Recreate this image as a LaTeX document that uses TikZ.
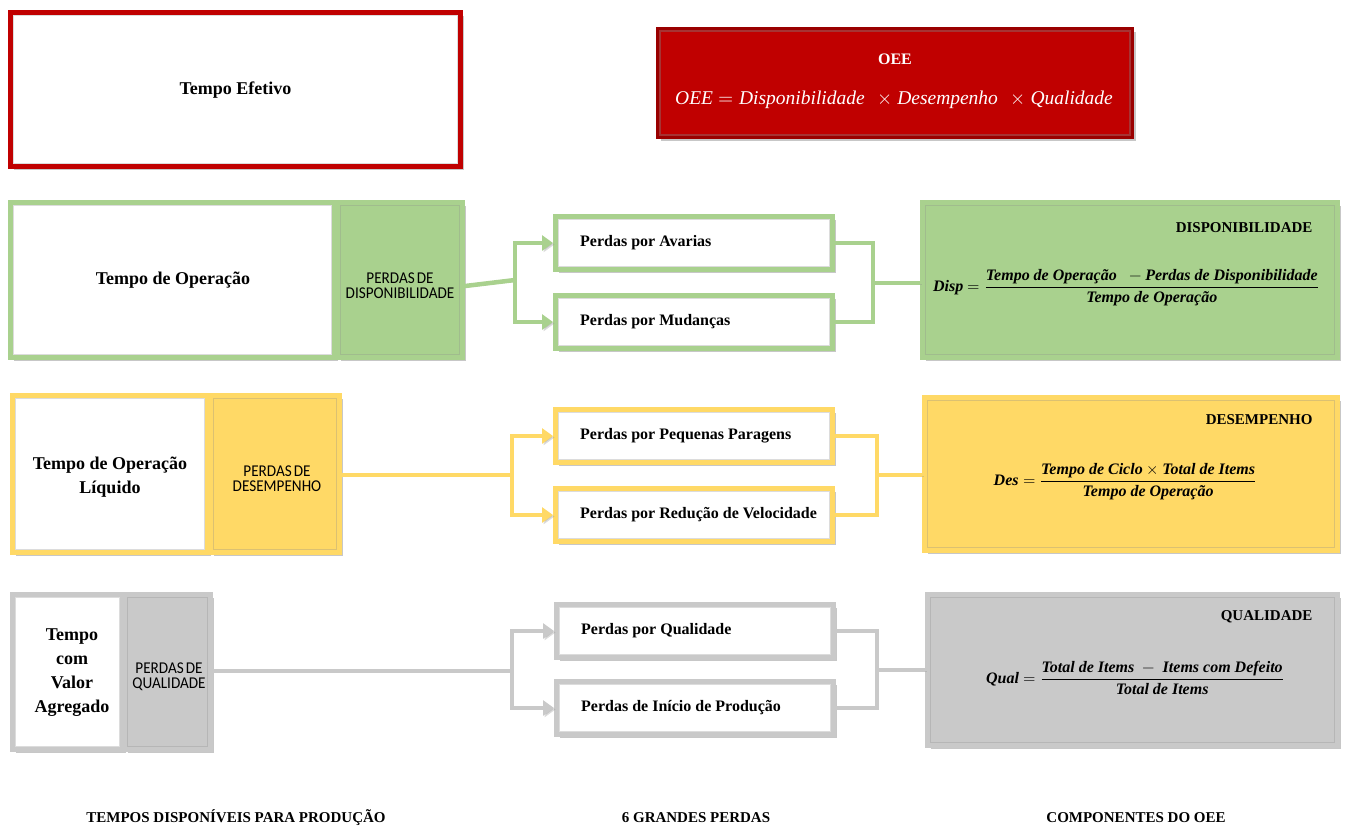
\documentclass[tikz,border=0pt]{standalone}
\usepackage{amsmath}
\usepackage{fontspec}
\usepackage{unicode-math}
\setmainfont{Liberation Serif}
\setmathfont{Latin Modern Math}
\newfontfamily\capsans[FakeStretch=0.92]{Carlito}
\usetikzlibrary{arrows.meta,shadows,calc}

\definecolor{oeered}{HTML}{C00000}
\definecolor{oeedark}{HTML}{9A0000}
\definecolor{dispgreen}{HTML}{A9D18E}
\definecolor{desyellow}{HTML}{FFD966}
\definecolor{qualgray}{HTML}{C9C9C9}

\newcommand{\fb}[1]{\textbf{\textit{#1}}}

\tikzset{
  box/.style={draw=#1, line width=5pt, inner sep=0pt, fill=white,
    drop shadow={shadow xshift=3pt, shadow yshift=-3pt, opacity=.22, fill=black}},
  lossbox/.style={box=#1, minimum width=277, minimum height=53},
  losstxt/.style={anchor=west, inner sep=0pt, font=\fontsize{16}{19}\selectfont\bfseries},
  timetxt/.style={font=\fontsize{18}{24.5}\selectfont\bfseries, align=center},
  perdatxt/.style={font=\capsans\fontsize{16.5}{15}\selectfont, align=center},
  boxtitle/.style={font=\fontsize{15}{18}\selectfont\bfseries, anchor=east},
  formula/.style={font=\fontsize{16}{19}\selectfont},
  foot/.style={font=\fontsize{15}{18}\selectfont\bfseries},
  inset/.style={draw=black!45, line width=1pt, opacity=.3},
  link/.style={draw=#1, line width=4.5pt,
    preaction={draw=black!45, opacity=.3, transform canvas={shift={(1.5pt,-1.5pt)}}}},
  arr/.style={-{Triangle[length=11pt,width=15pt]}}
}

\begin{document}
\begin{tikzpicture}[x=1pt, y=-1pt]
\useasboundingbox (0,0) rectangle (1346,828);

% ---- header boxes ----
\node[box=oeered, minimum width=450, minimum height=154] (te) at (235.5,89.5) {};
\node[timetxt] (teT) at (235.5,90) {Tempo Efetivo};

\node[fill=oeered, draw=oeedark, line width=3pt, minimum width=475, minimum height=109,
  drop shadow={shadow xshift=3pt, shadow yshift=-3pt, opacity=.22, fill=black}] (oee) at (895,83) {};
\node[white, font=\fontsize{16}{19}\selectfont\bfseries] (oeeT) at (895,59) {OEE};
\node[white, font=\fontsize{19.5}{24}\selectfont] (oeeF) at (894,100)
  {$\textit{OEE} = \textit{Disponibilidade}\;\,\times\textit{Desempenho}\;\,\times\textit{Qualidade}$};

% ---- disponibilidade row ----
\node[box=dispgreen, minimum width=324, minimum height=155] (opA) at (172.5,280) {};
\node[box=dispgreen, fill=dispgreen, minimum width=125, minimum height=155] (plA) at (400,280) {};
\node[timetxt] (opAT) at (173,280) {Tempo de Operação};
\node[perdatxt] (plAT) at (400,286) {PERDAS\kern2pt DE\\DISPONIBILIDADE};

\node[lossbox=dispgreen] (lossA1) at (694,243) {};
\node[lossbox=dispgreen] (lossA2) at (694,322) {};
\node[losstxt] (lossA1T) at ([xshift=27pt]lossA1.west) {Perdas por Avarias};
\node[losstxt] (lossA2T) at ([xshift=27pt]lossA2.west) {Perdas por Mudanças};

\node[box=dispgreen, fill=dispgreen, minimum width=415, minimum height=155] (fA) at (1130,280) {};
\node[boxtitle] (fAT) at (1316,228) {DISPONIBILIDADE};
\node[formula] (fAF) at (1126,288)
  {$\fb{Disp} = \dfrac{\fb{Tempo de Operação}\;\; - \fb{Perdas de Disponibilidade}}{\fb{Tempo de Operação}}$};

% ---- desempenho row ----
\node[box=desyellow, minimum width=195, minimum height=157] (opB) at (110,474) {};
\node[box=desyellow, fill=desyellow, minimum width=129, minimum height=157] (plB) at (275,474) {};
\node[timetxt] (opBT) at (110,477) {Tempo de Operação\\Líquido};
\node[perdatxt] (plBT) at (277,479) {PERDAS\kern2pt DE\\DESEMPENHO};

\node[lossbox=desyellow] (lossB1) at (694,436) {};
\node[lossbox=desyellow] (lossB2) at (694,515) {};
\node[losstxt] (lossB1T) at ([xshift=27pt]lossB1.west) {Perdas por Pequenas Paragens};
\node[losstxt] (lossB2T) at ([xshift=27pt]lossB2.west) {Perdas por Redução de Velocidade};

\node[box=desyellow, fill=desyellow, minimum width=413, minimum height=153] (fB) at (1131,474) {};
\node[boxtitle] (fBT) at (1316,420) {DESEMPENHO};
\node[formula] (fBF) at (1125,482)
  {$\fb{Des} = \dfrac{\fb{Tempo de Ciclo} \times \fb{Total de Items}}{\fb{Tempo de Operação}}$};

% ---- qualidade row ----
\node[box=qualgray, minimum width=110, minimum height=155] (opC) at (67.5,672) {};
\node[box=qualgray, fill=qualgray, minimum width=86, minimum height=155] (plC) at (167.5,672) {};
\node[timetxt, font=\fontsize{18}{24}\selectfont\bfseries] (opCT) at (72,673) {Tempo\\com\\Valor\\Agregado};
\node[perdatxt] (plCT) at (169,677) {PERDAS\kern2pt DE\\QUALIDADE};

\node[lossbox=qualgray] (lossC1) at (695,631) {};
\node[lossbox=qualgray] (lossC2) at (695,708) {};
\node[losstxt] (lossC1T) at ([xshift=27pt]lossC1.west) {Perdas por Qualidade};
\node[losstxt] (lossC2T) at ([xshift=27pt]lossC2.west) {Perdas de Início de Produção};

\node[box=qualgray, fill=qualgray, minimum width=410, minimum height=151] (fC) at (1132.5,670) {};
\node[boxtitle] (fCT) at (1316,617) {QUALIDADE};
\node[formula] (fCF) at (1135,678)
  {$\fb{Qual} = \dfrac{\fb{Total de Items}\; - \;\fb{Items com Defeito}}{\fb{Total de Items}}$};

% inner bevel lines of the boxes
\foreach \n in {te,opA,plA,lossA1,lossA2,fA,opB,plB,lossB1,lossB2,fB,opC,plC,lossC1,lossC2,fC}
  \draw[inset] ([shift={(5.5pt,-5.5pt)}]\n.north west) rectangle ([shift={(-5.5pt,5.5pt)}]\n.south east);
\draw[draw=black!50, line width=1.2pt, opacity=.4]
  ([shift={(4pt,-4pt)}]oee.north west) rectangle ([shift={(-4pt,4pt)}]oee.south east);

% ---- connectors ----
\coordinate (bA) at (515,280);
\coordinate (jA) at (873,283);
\draw[link=dispgreen] ([yshift=-6pt]plA.east) -- (bA);
\draw[link=dispgreen, arr] (bA) |- (lossA1.west);
\draw[link=dispgreen, arr] (bA) |- (lossA2.west);
\draw[link=dispgreen] (lossA1.east) -| (jA);
\draw[link=dispgreen] (lossA2.east) -| (jA);
\draw[link=dispgreen] (jA) -- (jA -| fA.west);

\coordinate (bB) at (512,475);
\coordinate (jB) at (877,475);
\draw[link=desyellow] (bB -| plB.east) -- (bB);
\draw[link=desyellow, arr] (bB) |- (lossB1.west);
\draw[link=desyellow, arr] (bB) |- (lossB2.west);
\draw[link=desyellow] (lossB1.east) -| (jB);
\draw[link=desyellow] (lossB2.east) -| (jB);
\draw[link=desyellow] (jB) -- (jB -| fB.west);

\coordinate (bC) at (512,671);
\coordinate (jC) at (877,670);
\draw[link=qualgray] (bC -| plC.east) -- (bC);
\draw[link=qualgray, arr] (bC) |- (lossC1.west);
\draw[link=qualgray, arr] (bC) |- (lossC2.west);
\draw[link=qualgray] (lossC1.east) -| (jC);
\draw[link=qualgray] (lossC2.east) -| (jC);
\draw[link=qualgray] (jC) -- (jC -| fC.west);

% ---- column captions ----
\node[foot] (cap1) at (236,818) {TEMPOS DISPONÍVEIS PARA PRODUÇÃO};
\node[foot] (cap2) at (696,818) {6 GRANDES PERDAS};
\node[foot] (cap3) at (1136,818) {COMPONENTES DO OEE};
\end{tikzpicture}
\end{document}
